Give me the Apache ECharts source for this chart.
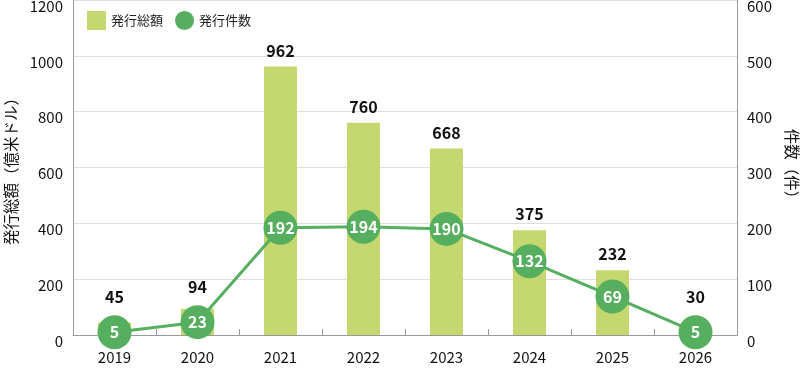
<!DOCTYPE html>
<html><head><meta charset="utf-8">
<script src="https://cdn.jsdelivr.net/npm/echarts@6/dist/echarts.min.js"></script>
<style>html,body{margin:0;padding:0;background:#fff}#c{width:800px;height:371px}</style>
</head><body><div id="c"></div>
<script>
const categories = ['2019','2020','2021','2022','2023','2024','2025','2026'];
const amounts = [45, 94, 962, 760, 668, 375, 232, 30];
const counts = [5, 23, 192, 194, 190, 132, 69, 5];
const leftTicks = [0, 200, 400, 600, 800, 1000, 1200];
const rightTicks = [0, 100, 200, 300, 400, 500, 600];

const FONT = '"Noto Sans CJK JP", "Noto Sans", sans-serif';
const BAR = '#c5d86f';
const GREEN = '#56ae5f';
const SYM = 34;

const chart = echarts.init(document.getElementById('c'));
function build(distances) {
  return {
    animation: false,
    textStyle: { fontFamily: FONT },
    grid: { left: 73, right: 63, top: 0, bottom: 36, containLabel: false, outerBoundsMode: 'none' },
    legend: {
      left: 82, top: 6, itemWidth: 19, itemHeight: 19, itemGap: 12,
      textStyle: { fontSize: 13, color: '#222', fontFamily: FONT },
      data: [{ name: '発行総額', icon: 'rect' }, { name: '発行件数', icon: 'circle' }]
    },
    xAxis: {
      type: 'category', data: categories,
      axisLine: { lineStyle: { color: '#999', width: 1 } },
      axisTick: { show: true, inside: true, length: 6, alignWithLabel: false, lineStyle: { color: '#999' } },
      axisLabel: { fontSize: 15, color: '#111', margin: 15, fontFamily: FONT }
    },
    yAxis: [{
      type: 'value', min: leftTicks[0], max: leftTicks[leftTicks.length - 1], interval: 200,
      name: '発行総額（億米ドル）', nameLocation: 'middle', nameGap: 47, nameRotate: 90,
      nameTextStyle: { fontSize: 15.5, color: '#111', fontFamily: FONT },
      axisLine: { show: true, lineStyle: { color: '#999' } },
      axisTick: { show: false },
      splitLine: { lineStyle: { color: '#dedede' } },
      axisLabel: { fontSize: 15, color: '#111', margin: 10, verticalAlign: 'top', lineHeight: 12,
        formatter: v => String(v), fontFamily: FONT }
    }, {
      type: 'value', min: rightTicks[0], max: rightTicks[rightTicks.length - 1], interval: 100,
      name: '件数（件）', nameLocation: 'middle', nameGap: 47, nameRotate: -90,
      nameTextStyle: { fontSize: 15.5, color: '#111', fontFamily: FONT },
      axisLine: { show: true, lineStyle: { color: '#999' } },
      axisTick: { show: false },
      splitLine: { show: false },
      axisLabel: { fontSize: 15, color: '#111', margin: 10, verticalAlign: 'top', lineHeight: 12,
        formatter: v => String(v), fontFamily: FONT }
    }],
    series: [{
      name: '発行総額', type: 'bar', barWidth: 33, yAxisIndex: 0,
      itemStyle: { color: BAR },
      data: amounts.map((v, i) => ({ value: v, label: { distance: distances[i] } })),
      label: { show: true, position: 'top', fontSize: 16, fontWeight: 'bold', color: '#111', fontFamily: FONT },
      z: 2
    }, {
      name: '発行件数', type: 'line', yAxisIndex: 1,
      data: counts, symbol: 'circle', symbolSize: SYM, showAllSymbol: true,
      lineStyle: { color: GREEN, width: 3 },
      itemStyle: { color: GREEN },
      label: { show: true, position: 'inside', color: '#fff', fontSize: 16, fontWeight: 'bold', fontFamily: FONT },
      z: 3
    }]
  };
}
chart.setOption(build(amounts.map(() => 8)));
const dist = amounts.map((v, i) => {
  const barTop = chart.convertToPixel({ yAxisIndex: 0 }, v);
  const circTop = chart.convertToPixel({ yAxisIndex: 1 }, counts[i]) - SYM / 2;
  return 8 + Math.max(0, barTop - circTop + 2);
});
chart.setOption(build(dist));
</script></body></html>
